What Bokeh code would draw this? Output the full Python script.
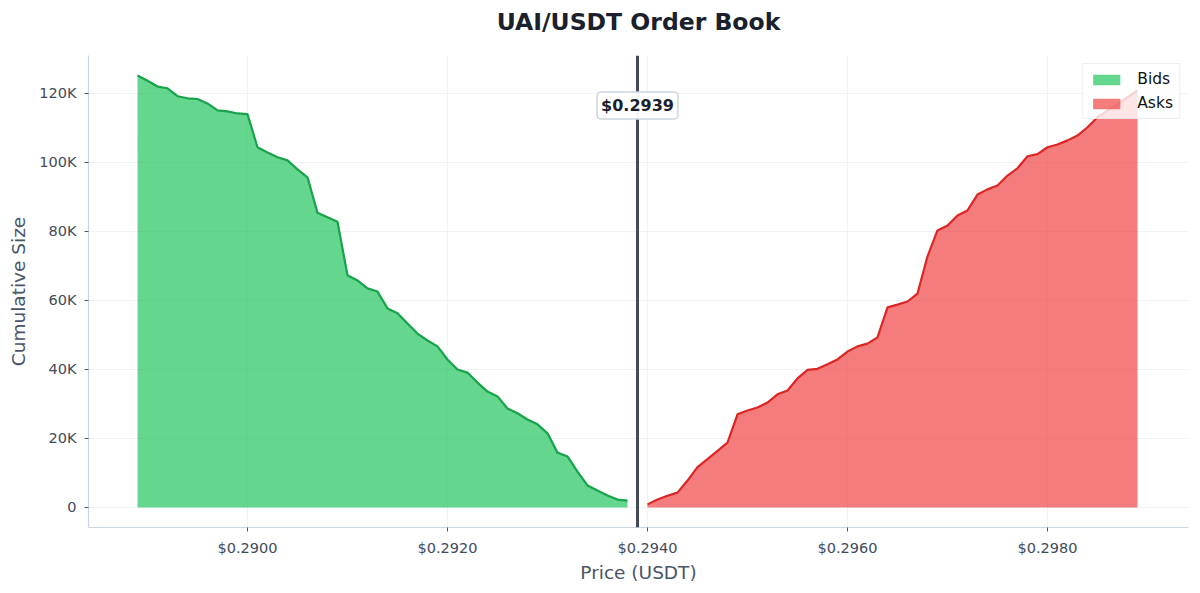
from bokeh.plotting import figure
from bokeh.models import (ColumnDataSource, Range1d, FixedTicker, NumeralTickFormatter,
                          Span, Label, Legend, LegendItem, Title)
from bokeh.embed import file_html
from bokeh.resources import INLINE

# ---------------- data ----------------
title_text = "UAI/USDT Order Book"
mid_price = 0.2939
mid_label = "$0.2939"

bid_prices = [0.2889, 0.2890, 0.2891, 0.2892, 0.2893, 0.2894, 0.2895, 0.2896, 0.2897, 0.2898,
              0.2899, 0.2900, 0.2901, 0.2902, 0.2903, 0.2904, 0.2905, 0.2906, 0.2907, 0.2908,
              0.2909, 0.2910, 0.2911, 0.2912, 0.2913, 0.2914, 0.2915, 0.2916, 0.2917, 0.2918,
              0.2919, 0.2920, 0.2921, 0.2922, 0.2923, 0.2924, 0.2925, 0.2926, 0.2927, 0.2928,
              0.2929, 0.2930, 0.2931, 0.2932, 0.2933, 0.2934, 0.2935, 0.2936, 0.2937, 0.2938]
bid_sizes = [125200, 123700, 122000, 121500, 119200, 118600, 118400, 117100, 115100, 114800,
             114200, 114000, 104400, 102900, 101500, 100600, 98000, 95700, 85400, 84100,
             82800, 67300, 65800, 63500, 62600, 57700, 56300, 53300, 50400, 48400,
             46700, 42900, 40000, 39100, 36200, 33600, 32200, 28700, 27300, 25500,
             24100, 21500, 15900, 14800, 10400, 6400, 4900, 3500, 2300, 2000]

ask_prices = [0.2940, 0.2941, 0.2942, 0.2943, 0.2944, 0.2945, 0.2946, 0.2947, 0.2948, 0.2949,
              0.2950, 0.2951, 0.2952, 0.2953, 0.2954, 0.2955, 0.2956, 0.2957, 0.2958, 0.2959,
              0.2960, 0.2961, 0.2962, 0.2963, 0.2964, 0.2965, 0.2966, 0.2967, 0.2968, 0.2969,
              0.2970, 0.2971, 0.2972, 0.2973, 0.2974, 0.2975, 0.2976, 0.2977, 0.2978, 0.2979,
              0.2980, 0.2981, 0.2982, 0.2983, 0.2984, 0.2985, 0.2986, 0.2987, 0.2988, 0.2989]
ask_sizes = [900, 2300, 3400, 4300, 7800, 11700, 14000, 16400, 18800, 27000,
             28100, 29000, 30400, 32800, 33900, 37400, 39900, 40200, 41500, 42900,
             45200, 46700, 47500, 49300, 58000, 58800, 59700, 62000, 72800, 80300,
             81700, 84600, 86100, 90700, 92200, 93300, 96200, 98300, 101800, 102400,
             104400, 105200, 106400, 107800, 110200, 113100, 115100, 116800, 118900, 120900]

x_ticks = [0.2900, 0.2920, 0.2940, 0.2960, 0.2980]
y_ticks = [0, 20000, 40000, 60000, 80000, 100000, 120000]
y_tick_labels = ["0", "20K", "40K", "60K", "80K", "100K", "120K"]

# ---------------- figure ----------------
FONT = "DejaVu Sans"
p = figure(width=1200, height=593, output_backend="svg", toolbar_location=None,
           x_range=Range1d(0.28841, 0.29941), y_range=Range1d(-5800, 131000),
           min_border_left=88, min_border_right=12, min_border_top=55, min_border_bottom=66)
p.outline_line_color = None
p.background_fill_color = "white"
p.border_fill_color = "white"

# spacer panel between the frame and the title (keeps the title high above the frame)
p.add_layout(Title(text=" ", text_font_size="5px", standoff=8), "above")

p.title.text = title_text
p.title.align = "center"
p.title.vertical_align = "top"
p.title.text_font = FONT
p.title.text_font_size = "23.5px"
p.title.text_font_style = "bold"
p.title.text_color = "#1a202c"
p.title.standoff = 4

bid_src = ColumnDataSource(dict(x=bid_prices, y=bid_sizes))
ask_src = ColumnDataSource(dict(x=ask_prices, y=ask_sizes))

bid_area = p.varea(x="x", y1=0, y2="y", source=bid_src, fill_color="#22c55e", fill_alpha=0.7)
p.line(x="x", y="y", source=bid_src, line_color="#16a34a", line_width=2.2)
ask_area = p.varea(x="x", y1=0, y2="y", source=ask_src, fill_color="#ef4444", fill_alpha=0.7)
p.line(x="x", y="y", source=ask_src, line_color="#dc2626", line_width=2.2)

p.add_layout(Span(location=mid_price, dimension="height", line_color="#434b5a", line_width=3))
p.add_layout(Label(x=mid_price, y=116500, text=mid_label, text_align="center",
                   text_baseline="middle", text_font=FONT, text_font_style="bold",
                   text_font_size="16px", text_color="#1a202c",
                   background_fill_color="white", background_fill_alpha=0.95,
                   border_line_color="#cbd5e0", border_line_width=1.5,
                   padding=4, border_radius=4))

# axes
p.xaxis.ticker = FixedTicker(ticks=x_ticks)
p.xaxis.formatter = NumeralTickFormatter(format="$0.0000")
p.yaxis.ticker = FixedTicker(ticks=y_ticks)
p.yaxis.major_label_overrides = {v: s for v, s in zip(y_ticks, y_tick_labels)}
for ax in (p.xaxis[0], p.yaxis[0]):
    ax.axis_line_color = "#cbd5e0"
    ax.axis_line_width = 1.2
    ax.major_tick_line_color = "#4a5568"
    ax.major_tick_in = 0
    ax.major_tick_out = 4
    ax.minor_tick_line_color = None
    ax.major_label_text_font = FONT
    ax.major_label_text_font_size = "14.5px"
    ax.major_label_text_color = "#434b5a"
    ax.major_label_standoff = 8
    ax.axis_label_text_font = FONT
    ax.axis_label_text_font_size = "18.5px"
    ax.axis_label_text_font_style = "normal"
    ax.axis_label_text_color = "#4a5568"
p.xaxis.axis_label_standoff = 3
p.yaxis.axis_label_standoff = 7
p.xaxis.axis_label = "Price (USDT)"
p.yaxis.axis_label = "Cumulative Size"

p.xgrid.grid_line_color = "#f0f2f5"
p.ygrid.grid_line_color = "#f0f2f5"
p.xgrid.ticker = FixedTicker(ticks=x_ticks)
p.ygrid.ticker = FixedTicker(ticks=y_ticks)

legend = Legend(items=[LegendItem(label="Bids", renderers=[bid_area]),
                       LegendItem(label="Asks", renderers=[ask_area])],
                location="top_right", margin=8, padding=6, spacing=6,
                glyph_width=34, glyph_height=13, label_standoff=14,
                label_text_font=FONT, label_text_font_size="15.5px", label_text_color="#111111",
                background_fill_color="white", background_fill_alpha=0.8,
                border_line_color="#d9dde3", border_line_width=1)
p.add_layout(legend)

open("out.html", "w").write(file_html(p, INLINE))
